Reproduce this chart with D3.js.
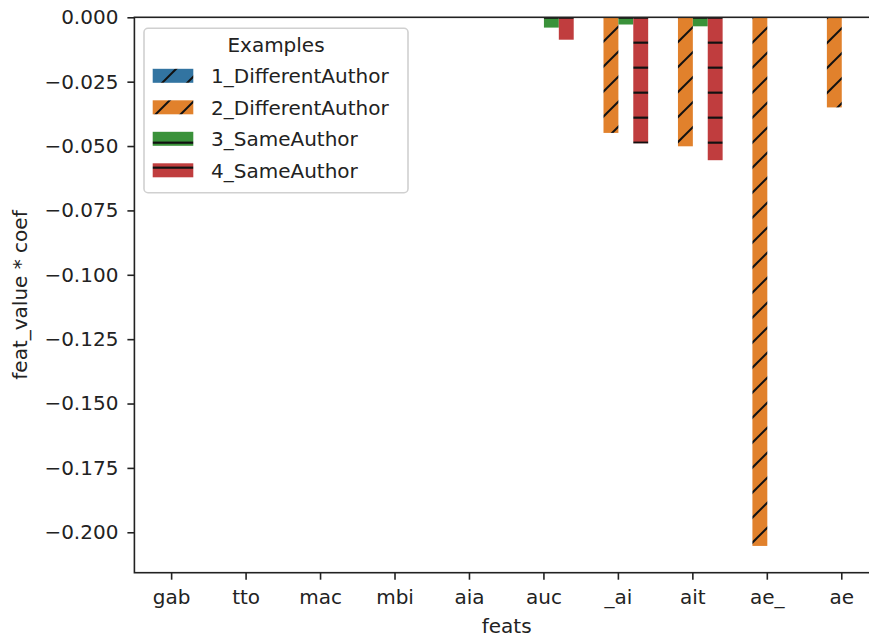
<!DOCTYPE html>
<html>
<head>
<meta charset="utf-8">
<script src="https://cdn.jsdelivr.net/npm/d3@7"></script>
<style>
    body { margin: 0; background: #fff; }
    text { font-family: "DejaVu Sans", sans-serif; fill: #222; }
</style>
</head>
<body>
<div id="chart"></div>
<script>
// data
var categories = ["gab", "tto", "mac", "mbi", "aia", "auc", "_ai", "ait", "ae_", "ae"];
var seriesNames = ["1_DifferentAuthor", "2_DifferentAuthor", "3_SameAuthor", "4_SameAuthor"];
var values1 = [0, 0, 0, 0, 0, 0, 0, 0, 0, 0];
var values2 = [0, 0, 0, 0, 0, 0, -0.0449, -0.0501, -0.2053, -0.0350];
var values3 = [0, 0, 0, 0, 0, -0.0040, -0.0028, -0.0035, 0, 0];
var values4 = [0, 0, 0, 0, 0, -0.0087, -0.0490, -0.0555, 0, 0];
var yTicks = [0, -0.025, -0.05, -0.075, -0.1, -0.125, -0.15, -0.175, -0.2];

var allValues = [values1, values2, values3, values4];
var colors = ["#3274a1", "#e1812c", "#3a923a", "#c03d3e"];
var hatches = ["diag", "diag", "horiz", "horiz"];

// set the dimensions of the plot area
var width = 869, height = 637;
var plot = { left: 134.4, right: 879, top: 17.3, bottom: 572.7 };

var svg = d3.select("#chart")
    .append("svg")
    .attr("width", width)
    .attr("height", height);

// hatch patterns, anchored to the page like matplotlib does
var defs = svg.append("defs");
colors.forEach(function (c, i) {
    var p = defs.append("pattern")
        .attr("id", "hatch" + i)
        .attr("patternUnits", "userSpaceOnUse")
        .attr("width", 25)
        .attr("height", 25);
    p.append("rect").attr("width", 25).attr("height", 25).attr("fill", c);
    if (hatches[i] == "diag") {
        var cc = 20;
        [cc - 25, cc, cc + 25].forEach(function (k) {
            p.append("line")
                .attr("x1", k + 5).attr("y1", -5)
                .attr("x2", k - 30).attr("y2", 30)
                .attr("stroke", "#111").attr("stroke-width", 2);
        });
    } else {
        p.append("line")
            .attr("x1", 0).attr("y1", 17.67)
            .attr("x2", 25).attr("y2", 17.67)
            .attr("stroke", "#111").attr("stroke-width", 2.2);
    }
});

// scales
var x = d3.scaleBand()
    .domain(categories)
    .range([plot.left, plot.right])
    .padding(0);

var xInner = d3.scaleBand()
    .domain(seriesNames)
    .range([x.bandwidth() * 0.1, x.bandwidth() * 0.9])
    .padding(0);

var y = d3.scaleLinear()
    .domain([0, -0.2157])
    .range([plot.top, plot.bottom]);

// bars
var bars = [];
allValues.forEach(function (vals, si) {
    vals.forEach(function (v, ci) {
        bars.push({ s: si, cat: categories[ci], v: v });
    });
});

svg.append("g").selectAll("rect")
    .data(bars.filter(function (d) { return d.v != 0; }))
    .enter()
    .append("rect")
    .attr("x", function (d) { return x(d.cat) + xInner(seriesNames[d.s]); })
    .attr("y", y(0))
    .attr("width", xInner.bandwidth())
    .attr("height", function (d) { return y(d.v) - y(0); })
    .attr("fill", function (d) { return "url(#hatch" + d.s + ")"; });

// X axis
var xAxis = svg.append("g")
    .attr("transform", "translate(0," + plot.bottom + ")")
    .call(d3.axisBottom(x).tickSize(7).tickPadding(7).tickSizeOuter(0));
xAxis.select(".domain").remove();
xAxis.selectAll("line").attr("stroke", "#222").attr("stroke-width", 1.6);
xAxis.selectAll("text")
    .attr("dy", "0.85em")
    .style("font-size", "20px")
    .style("font-family", "DejaVu Sans");

// Y axis
var yAxis = svg.append("g")
    .attr("transform", "translate(" + plot.left + ",0)")
    .call(d3.axisLeft(y).tickValues(yTicks).tickFormat(d3.format(".3f")).tickSize(7).tickPadding(9).tickSizeOuter(0));
yAxis.select(".domain").remove();
yAxis.selectAll("line").attr("stroke", "#222").attr("stroke-width", 1.6);
yAxis.selectAll("text")
    .style("font-size", "20px")
    .style("font-family", "DejaVu Sans");

// spines
svg.append("rect")
    .attr("x", plot.left)
    .attr("y", plot.top)
    .attr("width", plot.right - plot.left)
    .attr("height", plot.bottom - plot.top)
    .attr("fill", "none")
    .attr("stroke", "#222")
    .attr("stroke-width", 1.6);

// axis labels
svg.append("text")
    .attr("x", (plot.left + plot.right) / 2)
    .attr("y", 633)
    .attr("text-anchor", "middle")
    .style("font-size", "20px")
    .text("feats");

svg.append("text")
    .attr("transform", "translate(27," + ((plot.top + plot.bottom) / 2) + ")rotate(-90)")
    .attr("text-anchor", "middle")
    .style("font-size", "20px")
    .text("feat_value * coef");

// legend
var legend = svg.append("g");
legend.append("rect")
    .attr("x", 144)
    .attr("y", 28.3)
    .attr("width", 264)
    .attr("height", 164.4)
    .attr("rx", 4)
    .attr("fill", "#fff")
    .attr("fill-opacity", 0.8)
    .attr("stroke", "#d0d0d0")
    .attr("stroke-width", 1.6);

legend.append("text")
    .attr("x", 276)
    .attr("y", 52)
    .attr("text-anchor", "middle")
    .style("font-size", "20px")
    .text("Examples");

var rowY = d3.scaleLinear().domain([0, 3]).range([75.8, 170.3]);

seriesNames.forEach(function (name, i) {
    legend.append("rect")
        .attr("x", 152.7)
        .attr("y", rowY(i) - 7)
        .attr("width", 40.6)
        .attr("height", 14)
        .attr("fill", "url(#hatch" + i + ")");
    legend.append("text")
        .attr("x", 211)
        .attr("y", rowY(i) + 7.3)
        .style("font-size", "20px")
        .text(name);
});
</script>
</body>
</html>
